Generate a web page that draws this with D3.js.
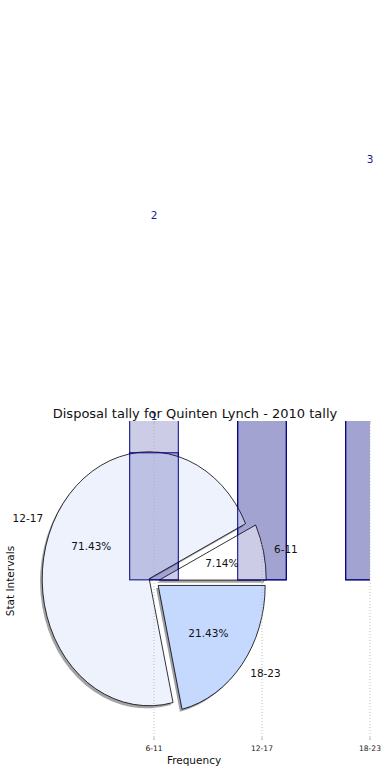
<!DOCTYPE html>
<html>
<head>
<meta charset="utf-8">
<script src="https://cdn.jsdelivr.net/npm/d3@7/dist/d3.min.js"></script>
<style>
  body { margin: 0; background: #fff; }
  svg { display: block; font-family: "DejaVu Sans", sans-serif; }
</style>
</head>
<body>
<div id="chart"></div>
<script>
// data
var categories = ["6-11", "12-17", "18-23"];
var pieCounts = [1, 10, 3];
var pieColors = ["#ffffff", "#edf2fd", "#c5d9fe"];
var backBars = [2, 3, 3];
var frontBars = [1, 2, 3];
var barLabels = [
    { cat: "6-11", text: "1", v: 1.29 },
    { cat: "6-11", text: "2", v: 2.87 },
    { cat: "18-23", text: "3", v: 3.31 }
];

var W = 390, H = 780;
var svg = d3.select("#chart").append("svg").attr("width", W).attr("height", H);

// bar axes
var axTop = 421, axBottom = 740, axLeft = 0, axRight = 370;
var x = d3.scalePoint().domain(categories).range([154, 370]);
var y = d3.scaleLinear().domain([-1.26, 1.25]).range([axBottom, axTop]);
var bw = x.step() * 0.45;

svg.append("clipPath").attr("id", "clip")
    .append("rect").attr("x", axLeft).attr("y", axTop)
    .attr("width", axRight - axLeft).attr("height", axBottom - axTop);

function drawBars(vals) {
    svg.append("g").attr("clip-path", "url(#clip)")
        .selectAll("rect").data(vals).join("rect")
        .attr("x", (d, i) => x(categories[i]) - bw / 2)
        .attr("y", d => y(d))
        .attr("width", bw)
        .attr("height", d => y(0) - y(d))
        .attr("fill", "rgba(0,0,128,0.2)")
        .attr("stroke", "#000080")
        .attr("stroke-width", 1);
}

drawBars(backBars);

// pie (stretched, not equal aspect)
var cx = x("6-11"), cy = 581.5, rx = 107, ry = 127, explode = 0.05;
var pie = d3.pie().sort(null).startAngle(0).endAngle(2 * Math.PI);
var arcs = pie(pieCounts);
var total = d3.sum(pieCounts);
var arc = d3.arc().innerRadius(0).outerRadius(1)
    .startAngle(d => Math.PI / 2 - d.startAngle)
    .endAngle(d => Math.PI / 2 - d.endAngle);

arcs.forEach(d => {
    var m = (d.startAngle + d.endAngle) / 2;
    d.ox = cx + explode * rx * Math.cos(m);
    d.oy = cy - explode * ry * Math.sin(m);
    d.mid = m;
});

var pieG = svg.append("g");
pieG.selectAll("path.shadow").data(arcs).join("path")
    .attr("class", "shadow")
    .attr("transform", d => `translate(${d.ox - 0.02 * rx},${d.oy + 0.02 * ry}) scale(${rx},${ry})`)
    .attr("d", arc)
    .attr("fill", (d, i) => {
        var c = d3.rgb(pieColors[i]);
        return d3.rgb(c.r * 0.3, c.g * 0.3, c.b * 0.3);
    })
    .attr("fill-opacity", 0.5);

pieG.selectAll("path.wedge").data(arcs).join("path")
    .attr("class", "wedge")
    .attr("transform", d => `translate(${d.ox},${d.oy}) scale(${rx},${ry})`)
    .attr("d", arc)
    .attr("fill", (d, i) => pieColors[i])
    .attr("stroke", "#000")
    .attr("stroke-width", 0.8)
    .attr("vector-effect", "non-scaling-stroke");

drawBars(frontBars);

// grid + ticks
var grid = svg.append("g");
grid.selectAll("line.grid").data(categories).join("line")
    .attr("class", "grid")
    .attr("x1", d => x(d)).attr("x2", d => x(d))
    .attr("y1", axTop).attr("y2", axBottom)
    .attr("stroke", "#b0b0b0").attr("stroke-width", 0.8)
    .attr("stroke-dasharray", "1,2");
grid.selectAll("line.tb").data(categories).join("line")
    .attr("class", "tb")
    .attr("x1", d => x(d)).attr("x2", d => x(d))
    .attr("y1", axBottom - 3).attr("y2", axBottom)
    .attr("stroke", "#b0b0b0").attr("stroke-width", 0.8);
grid.selectAll("line.tt").data(categories).join("line")
    .attr("class", "tt")
    .attr("x1", d => x(d)).attr("x2", d => x(d))
    .attr("y1", axTop).attr("y2", axTop + 3)
    .attr("stroke", "#b0b0b0").attr("stroke-width", 0.8);
grid.selectAll("text").data(categories).join("text")
    .attr("x", d => x(d)).attr("y", axBottom + 8)
    .attr("text-anchor", "middle").attr("dominant-baseline", "central")
    .attr("font-size", "7.6px").attr("fill", "#222")
    .text(d => d);

// pie labels
svg.append("g").selectAll("text").data(arcs).join("text")
    .attr("x", d => d.ox + 1.1 * rx * Math.cos(d.mid))
    .attr("y", d => d.oy - 1.1 * ry * Math.sin(d.mid))
    .attr("text-anchor", d => Math.cos(d.mid) > 0 ? "start" : "end")
    .attr("dominant-baseline", "central")
    .attr("font-size", "10.5px").attr("fill", "#111")
    .text((d, i) => categories[i]);

svg.append("g").selectAll("text").data(arcs).join("text")
    .attr("x", d => d.ox + 0.6 * rx * Math.cos(d.mid))
    .attr("y", d => d.oy - 0.6 * ry * Math.sin(d.mid))
    .attr("text-anchor", "middle")
    .attr("dominant-baseline", "central")
    .attr("font-size", "10.5px").attr("fill", "#111")
    .text(d => (d.value / total * 100).toFixed(2) + "%");

// bar value labels
svg.append("g").selectAll("text").data(barLabels).join("text")
    .attr("x", d => x(d.cat))
    .attr("y", d => y(d.v))
    .attr("text-anchor", "middle")
    .attr("dominant-baseline", "central")
    .attr("font-size", "10.5px").attr("fill", "#1a1a9a")
    .text(d => d.text);

// titles
svg.append("text")
    .attr("x", 195).attr("y", 413)
    .attr("text-anchor", "middle").attr("dominant-baseline", "central")
    .attr("font-size", "13px").attr("fill", "#111")
    .text("Disposal tally for Quinten Lynch - 2010 tally");

svg.append("text")
    .attr("x", 194).attr("y", 760)
    .attr("text-anchor", "middle").attr("dominant-baseline", "central")
    .attr("font-size", "10.5px").attr("fill", "#111")
    .text("Frequency");

svg.append("text")
    .attr("transform", "translate(10,581) rotate(-90)")
    .attr("text-anchor", "middle").attr("dominant-baseline", "central")
    .attr("font-size", "10.5px").attr("fill", "#111")
    .text("Stat Intervals");
</script>
</body>
</html>
